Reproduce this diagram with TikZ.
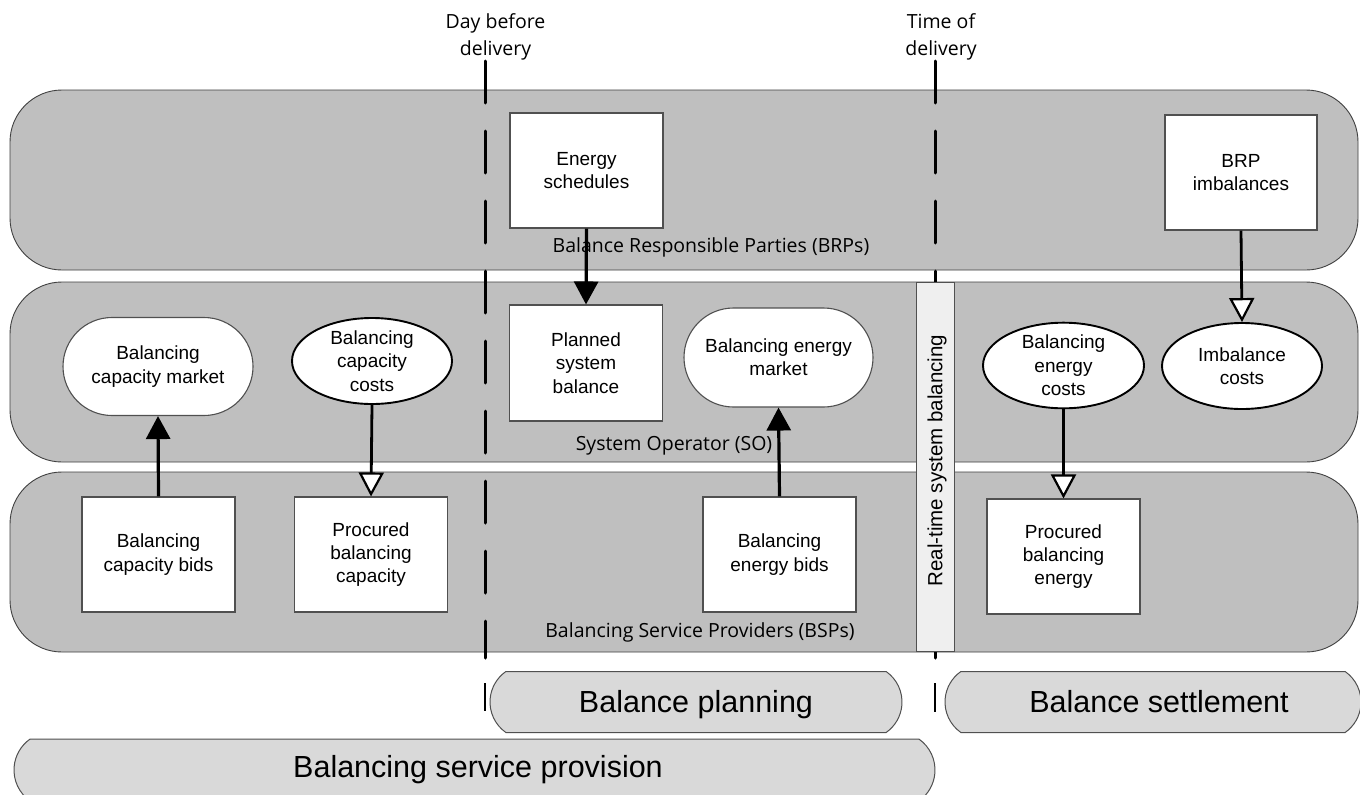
\documentclass[tikz,border=0pt]{standalone}
\usepackage{fontspec}
\usetikzlibrary{arrows.meta,shapes.geometric,shapes.misc}
\newfontfamily\arialf{Liberation Sans}
\newfontfamily\osans{Open Sans}
\definecolor{lanegray}{HTML}{BFBFBF}
\definecolor{lanestroke}{HTML}{404040}
\definecolor{boxstroke}{HTML}{505050}
\definecolor{barfill}{HTML}{EFEFEF}
\definecolor{phasefill}{HTML}{D9D9D9}
\tikzset{
  lane/.style={rectangle, rounded corners=52pt, fill=lanegray, draw=lanestroke, line width=0.9pt, minimum width=1348pt, minimum height=180pt, inner sep=0pt},
  lanelabel/.style={font=\osans\fontsize{19.5}{23}\selectfont, text=black, inner sep=0pt, anchor=base},
  toplabel/.style={font=\osans\fontsize{19.5}{23}\selectfont, inner sep=0pt, anchor=base},
  boxnode/.style={rectangle, draw=boxstroke, fill=white, line width=1.1pt, minimum width=153pt, minimum height=115pt, align=center, inner sep=0pt, font=\arialf\fontsize{19}{23.3}\selectfont},
  ovalnode/.style={ellipse, draw=black, fill=white, line width=1.9pt, minimum width=160pt, minimum height=86pt, align=center, inner sep=0pt, font=\arialf\fontsize{19}{23.3}\selectfont},
  marketnode/.style={rounded rectangle, draw=boxstroke, fill=white, line width=1.1pt, minimum width=190pt, minimum height=98pt, align=center, inner sep=0pt, font=\arialf\fontsize{19}{23.3}\selectfont},
  phasenode/.style={rounded rectangle, rounded rectangle arc length=110, draw=boxstroke, fill=phasefill, line width=1pt, minimum height=61pt, inner sep=0pt},
  phaselabel/.style={font=\arialf\fontsize{30.5}{34}\selectfont, inner sep=0pt, anchor=base},
  dline/.style={line width=3pt, line cap=round, dash pattern=on 42pt off 28pt},
  tick/.style={line width=1.4pt},
  solidarrow/.style={line width=3.2pt, -{Triangle[length=23pt,width=24pt]}},
  openarrow/.style={line width=2.8pt, -{Triangle[open,fill=white,length=24pt,width=25pt,line width=2.2pt]}},
}
\begin{document}
\begin{tikzpicture}[x=1pt,y=-1pt]
\clip (0,0) rectangle (1360,795);
\fill[white] (0,0) rectangle (1360,795);

% lanes
\node[lane] (brp) at (684,180) {};
\node[lane] (so) at (684,372) {};
\node[lane] (bsp) at (684,562) {};
\node[lanelabel] (brpl) at (711,252) {Balance Responsible Parties (BRPs)};
\node[lanelabel] (sol) at (674,450) {System Operator (SO)};
\node[lanelabel] (bspl) at (700,637) {Balancing Service Providers (BSPs)};

% top labels
\node[toplabel] (dbd1) at (495.5,28) {Day before};
\node[toplabel] (dbd2) at (495.5,55) {delivery};
\node[toplabel] (tod1) at (941,28) {Time of};
\node[toplabel] (tod2) at (941,55) {delivery};

% dashed time lines
\coordinate (d1t) at (485,61);
\coordinate (d1b) at (485,658);
\coordinate (d2t) at (935,61);
\coordinate (d2b) at (935,658);
\draw[dline] (d1t) -- (d1b);
\draw[dline] (d2t) -- (d2b);

% real-time bar
\node[rectangle, draw=boxstroke, fill=barfill, line width=1pt, minimum width=38pt, minimum height=369pt, inner sep=0pt] (rt) at (935,466.5) {};
\node[rotate=90, font=\arialf\fontsize{20.5}{24}\selectfont, inner sep=0pt] (rtl) at (937,460.5) {Real-time system balancing};

% BRP lane
\node[boxnode] (es) at (586.5,170.5) {Energy\\schedules};
\node[boxnode, minimum width=152pt] (bi) at (1241,172.5) {BRP\\imbalances};

% SO lane
\node[marketnode] (bcm) at (158,366.5) {Balancing\\capacity market};
\node[ovalnode] (bcc) at (372,361) {Balancing\\capacity\\costs};
\node[boxnode, minimum height=116pt] (psb) at (586,363) {Planned\\system\\balance};
\node[marketnode, minimum width=189pt, minimum height=99pt] (bem) at (778.5,357.5) {Balancing energy\\market};
\node[ovalnode, minimum width=161pt, minimum height=85pt] (bec) at (1063.5,365.5) {Balancing\\energy\\costs};
\node[ovalnode] (ic) at (1242,366) {Imbalance\\costs};

% BSP lane
\node[boxnode] (bcb) at (158.5,554.5) {Balancing\\capacity bids};
\node[boxnode] (pbc) at (371,554.5) {Procured\\balancing\\capacity};
\node[boxnode] (beb) at (779.5,554.5) {Balancing\\energy bids};
\node[boxnode] (pbe) at (1063.5,556.5) {Procured\\balancing\\energy};

% arrows
\draw[solidarrow] (es.south) -- (psb.north);
\draw[openarrow] (bi.south) -- (ic.north);
\draw[solidarrow] (bcb.north) -- (bcm.south);
\draw[openarrow] (bcc.south) -- (pbc.north);
\draw[solidarrow] (beb.north) -- (bem.south);
\draw[openarrow] (bec.south) -- (pbe.north);

% phase ticks
\coordinate (t1a) at (485,683);
\coordinate (t1b) at (485,711);
\coordinate (t2a) at (935,683);
\coordinate (t2b) at (935,712);
\draw[tick] (t1a) -- (t1b);
\draw[tick] (t2a) -- (t2b);

% phases
\node[phasenode, minimum width=412pt] (bp) at (696,702) {};
\node[phaselabel] (bpt) at (696,712) {Balance planning};
\node[phasenode, minimum width=416pt] (bs) at (1153,702) {};
\node[phaselabel] (bst) at (1159,712) {Balance settlement};
\node[phasenode, minimum width=921pt, minimum height=62pt] (bsv) at (474.5,770) {};
\node[phaselabel] (bsvt) at (478,777) {Balancing service provision};
\end{tikzpicture}
\end{document}
